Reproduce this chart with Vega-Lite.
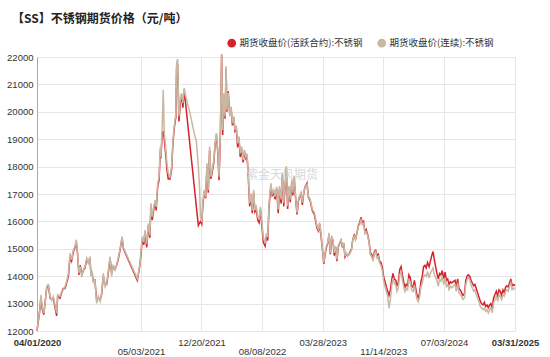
{
"$schema": "https://vega.github.io/schema/vega-lite/v6.json",
"width": 478, "height": 274,
"autosize": {"type": "none"},
"padding": {"left": 37, "top": 57, "right": 35, "bottom": 26},
"background": "white",
"config": {"view": {"stroke": null}, "axisY": {"title": null, "format": "d", "labelOverlap": false, "labelFontSize": 9.5, "labelFont": "Liberation Sans", "labelColor": "#333", "ticks": false, "labelPadding": 4, "domain": true, "domainColor": "#aaaaaa", "grid": true, "gridColor": "#e6e6e6", "gridWidth": 1, "tickCount": 10}},
"title": {"text": "【SS】不锈钢期货价格（元/吨）", "anchor": "start", "frame": "group", "dx": -25, "dy": 14, "offset": 26, "fontSize": 12, "font": "Noto Sans CJK SC", "fontWeight": "bold", "color": "#222"},
"data": {"values": [
{"d":"2020-04-01","c":12000,"a":12000},{"d":"2020-04-06","c":12400,"a":12350},{"d":"2020-04-12","c":12770,"a":12800},{"d":"2020-04-16","c":13320,"a":13250},{"d":"2020-04-21","c":12890,"a":12800},{"d":"2020-04-27","c":12650,"a":12600},{"d":"2020-05-02","c":13010,"a":13050},{"d":"2020-05-08","c":13620,"a":13550},{"d":"2020-05-14","c":13680,"a":13700},{"d":"2020-05-21","c":13260,"a":13200},{"d":"2020-05-27","c":13130,"a":13150},{"d":"2020-06-02","c":13260,"a":13200},{"d":"2020-06-09","c":12950,"a":12850},{"d":"2020-06-15","c":12650,"a":12550},{"d":"2020-06-19","c":13320,"a":13300},{"d":"2020-06-28","c":13260,"a":13200},{"d":"2020-07-04","c":13440,"a":13400},{"d":"2020-07-10","c":13500,"a":13550},{"d":"2020-07-17","c":13620,"a":13550},{"d":"2020-07-23","c":13800,"a":13750},{"d":"2020-07-30","c":14110,"a":14000},{"d":"2020-08-05","c":14840,"a":14700},{"d":"2020-08-11","c":14600,"a":14550},{"d":"2020-08-18","c":14960,"a":14900},{"d":"2020-08-24","c":15090,"a":15050},{"d":"2020-08-29","c":15330,"a":15250},{"d":"2020-09-03","c":14840,"a":14800},{"d":"2020-09-08","c":14110,"a":14050},{"d":"2020-09-13","c":14350,"a":14400},{"d":"2020-09-19","c":13990,"a":14050},{"d":"2020-09-25","c":14230,"a":14200},{"d":"2020-10-01","c":14350,"a":14300},{"d":"2020-10-08","c":14660,"a":14600},{"d":"2020-10-14","c":14480,"a":14500},{"d":"2020-10-20","c":14720,"a":14650},{"d":"2020-10-24","c":13990,"a":14100},{"d":"2020-10-29","c":14110,"a":14050},{"d":"2020-11-03","c":13740,"a":13800},{"d":"2020-11-08","c":13870,"a":13850},{"d":"2020-11-15","c":13010,"a":13100},{"d":"2020-11-21","c":13260,"a":13200},{"d":"2020-11-28","c":13070,"a":13150},{"d":"2020-12-04","c":13380,"a":13350},{"d":"2020-12-10","c":14110,"a":14000},{"d":"2020-12-17","c":13620,"a":13700},{"d":"2020-12-23","c":13740,"a":13700},{"d":"2020-12-29","c":14170,"a":14100},{"d":"2021-01-05","c":14720,"a":14650},{"d":"2021-01-11","c":13990,"a":14100},{"d":"2021-01-17","c":14420,"a":14350},{"d":"2021-01-24","c":14230,"a":14250},{"d":"2021-01-30","c":14420,"a":14400},{"d":"2021-02-05","c":14660,"a":14600},{"d":"2021-02-12","c":15000,"a":14950},{"d":"2021-02-20","c":15450,"a":15400},{"d":"2021-02-25","c":15040,"a":15000},{"d":"2021-04-19","c":13910,"a":13850},{"d":"2021-04-29","c":14430,"a":14400},{"d":"2021-05-03","c":14900,"a":14800},{"d":"2021-05-08","c":15440,"a":15350},{"d":"2021-05-14","c":15250,"a":15150},{"d":"2021-05-18","c":15680,"a":15600},{"d":"2021-05-25","c":15190,"a":15050},{"d":"2021-05-31","c":15920,"a":15850},{"d":"2021-06-06","c":15500,"a":15400},{"d":"2021-06-10","c":16660,"a":16550},{"d":"2021-06-15","c":16170,"a":16050},{"d":"2021-06-21","c":16530,"a":16450},{"d":"2021-06-26","c":16780,"a":16700},{"d":"2021-06-30","c":16530,"a":16400},{"d":"2021-07-06","c":17390,"a":17300},{"d":"2021-07-11","c":17630,"a":17500},{"d":"2021-07-16","c":18730,"a":18600},{"d":"2021-07-18","c":18360,"a":18300},{"d":"2021-07-23","c":19460,"a":19200},{"d":"2021-07-27","c":20800,"a":19300},{"d":"2021-07-31","c":19220,"a":19000},{"d":"2021-08-05","c":18730,"a":18500},{"d":"2021-08-10","c":18120,"a":17900},{"d":"2021-08-15","c":17750,"a":17550},{"d":"2021-08-22","c":17630,"a":17550},{"d":"2021-08-28","c":18000,"a":17900},{"d":"2021-09-02","c":18970,"a":18850},{"d":"2021-09-07","c":19460,"a":19400},{"d":"2021-09-13","c":19950,"a":19800},{"d":"2021-09-16","c":21780,"a":21600},{"d":"2021-09-20","c":21930,"a":21750},{"d":"2021-09-25","c":19830,"a":19650},{"d":"2021-09-30","c":20440,"a":20300},{"d":"2021-10-05","c":20680,"a":20600},{"d":"2021-10-10","c":20320,"a":20150},{"d":"2021-10-15","c":20870,"a":20800},{"d":"2021-10-21","c":20560},{"d":"2021-11-06","c":19950},{"d":"2021-11-25","c":19100},{"d":"2021-11-30","c":18970},{"d":"2021-12-08","c":18000,"a":15850},{"d":"2021-12-13","c":17150,"a":15950},{"d":"2021-12-16","c":16170,"a":16000},{"d":"2021-12-21","c":15980,"a":15900},{"d":"2021-12-26","c":16780,"a":16700},{"d":"2021-12-31","c":17150,"a":17100},{"d":"2022-01-05","c":16900,"a":16850},{"d":"2022-01-10","c":18120,"a":18000},{"d":"2022-01-15","c":17150,"a":17050},{"d":"2022-01-20","c":18730,"a":18600},{"d":"2022-01-25","c":17630,"a":17550},{"d":"2022-01-30","c":17880,"a":17800},{"d":"2022-02-05","c":18240,"a":18150},{"d":"2022-02-10","c":18850,"a":18800},{"d":"2022-02-15","c":19220,"a":19150},{"d":"2022-02-20","c":18610,"a":18550},{"d":"2022-02-25","c":17630,"a":17500},{"d":"2022-03-02","c":19220,"a":19100},{"d":"2022-03-07","c":22090,"a":22090},{"d":"2022-03-11","c":19340,"a":19150},{"d":"2022-03-15","c":20680,"a":20600},{"d":"2022-03-20","c":19830,"a":19750},{"d":"2022-03-24","c":21660,"a":21550},{"d":"2022-03-27","c":20070,"a":20000},{"d":"2022-04-01","c":20680,"a":20750},{"d":"2022-04-07","c":19830,"a":19900},{"d":"2022-04-12","c":20190,"a":20150},{"d":"2022-04-17","c":19580,"a":19500},{"d":"2022-04-22","c":19830,"a":19800},{"d":"2022-04-27","c":19340,"a":19300},{"d":"2022-05-02","c":19460,"a":19400},{"d":"2022-05-07","c":18850,"a":18700},{"d":"2022-05-12","c":19100,"a":19050},{"d":"2022-05-17","c":18480,"a":18350},{"d":"2022-05-22","c":18730,"a":18650},{"d":"2022-05-28","c":18240,"a":18150},{"d":"2022-06-02","c":18610,"a":18550},{"d":"2022-06-07","c":18360,"a":18300},{"d":"2022-06-12","c":18480,"a":18400},{"d":"2022-06-17","c":17630,"a":17550},{"d":"2022-06-22","c":16660,"a":16550},{"d":"2022-06-27","c":17020,"a":16950},{"d":"2022-07-02","c":16410,"a":16300},{"d":"2022-07-07","c":17150,"a":17050},{"d":"2022-07-12","c":16410,"a":16350},{"d":"2022-07-17","c":16530,"a":16450},{"d":"2022-07-23","c":16170,"a":16050},{"d":"2022-07-28","c":16050,"a":15950},{"d":"2022-08-02","c":16530,"a":16450},{"d":"2022-08-07","c":16050,"a":15900},{"d":"2022-08-13","c":15430,"a":15250},{"d":"2022-08-20","c":15190,"a":15100},{"d":"2022-08-25","c":15560,"a":15450},{"d":"2022-08-30","c":15430,"a":15300},{"d":"2022-09-04","c":16660,"a":16550},{"d":"2022-09-11","c":17390,"a":17300},{"d":"2022-09-16","c":17020,"a":16950},{"d":"2022-09-22","c":17150,"a":17050},{"d":"2022-09-27","c":16900,"a":16800},{"d":"2022-10-03","c":17270,"a":17200},{"d":"2022-10-09","c":16440,"a":16300},{"d":"2022-10-14","c":17290,"a":17200},{"d":"2022-10-20","c":16800,"a":16650},{"d":"2022-10-25","c":17780,"a":17700},{"d":"2022-10-30","c":16680,"a":16550},{"d":"2022-11-04","c":17290,"a":17200},{"d":"2022-11-09","c":18020,"a":17950},{"d":"2022-11-14","c":16560,"a":16450},{"d":"2022-11-19","c":17290,"a":17250},{"d":"2022-11-24","c":16800,"a":16700},{"d":"2022-11-30","c":17540,"a":17450},{"d":"2022-12-04","c":17050,"a":16950},{"d":"2022-12-09","c":17660,"a":17600},{"d":"2022-12-15","c":16800,"a":16750},{"d":"2022-12-20","c":16320,"a":16250},{"d":"2022-12-25","c":16800,"a":16750},{"d":"2022-12-30","c":16930,"a":16900},{"d":"2023-01-04","c":17050,"a":17000},{"d":"2023-01-09","c":16680,"a":16600},{"d":"2023-01-14","c":17050,"a":17000},{"d":"2023-01-19","c":17230,"a":17250},{"d":"2023-01-27","c":17350,"a":17400},{"d":"2023-02-01","c":16930,"a":16900},{"d":"2023-02-08","c":16800,"a":16750},{"d":"2023-02-16","c":16440,"a":16400},{"d":"2023-02-24","c":16320,"a":16250},{"d":"2023-03-01","c":16070,"a":16000},{"d":"2023-03-06","c":15830,"a":15750},{"d":"2023-03-11","c":15710,"a":15650},{"d":"2023-03-16","c":15950,"a":15900},{"d":"2023-03-21","c":15580,"a":15500},{"d":"2023-03-26","c":15100,"a":15050},{"d":"2023-04-01","c":14490,"a":14450},{"d":"2023-04-06","c":14850,"a":14800},{"d":"2023-04-11","c":15100,"a":15050},{"d":"2023-04-16","c":15220,"a":15200},{"d":"2023-04-21","c":15580,"a":15500},{"d":"2023-04-26","c":14850,"a":14800},{"d":"2023-05-01","c":15460,"a":15400},{"d":"2023-05-06","c":15340,"a":15300},{"d":"2023-05-11","c":14850,"a":14750},{"d":"2023-05-16","c":15100,"a":15050},{"d":"2023-05-21","c":14610,"a":14550},{"d":"2023-05-26","c":15100,"a":15050},{"d":"2023-05-31","c":15220,"a":15200},{"d":"2023-06-06","c":15340,"a":15300},{"d":"2023-06-11","c":15100,"a":15050},{"d":"2023-06-16","c":15220,"a":15200},{"d":"2023-06-21","c":14730,"a":14700},{"d":"2023-06-26","c":14850,"a":14800},{"d":"2023-07-01","c":14730,"a":14750},{"d":"2023-07-06","c":14790,"a":14800},{"d":"2023-07-11","c":14850,"a":14900},{"d":"2023-07-16","c":14970,"a":15000},{"d":"2023-07-21","c":15340,"a":15350},{"d":"2023-07-26","c":15460,"a":15500},{"d":"2023-07-31","c":15340,"a":15350},{"d":"2023-08-06","c":15580,"a":15600},{"d":"2023-08-11","c":15830,"a":15850},{"d":"2023-08-16","c":15880,"a":15950},{"d":"2023-08-21","c":16060,"a":16150},{"d":"2023-08-26","c":15880,"a":15950},{"d":"2023-08-31","c":15940,"a":16000},{"d":"2023-09-05","c":15570,"a":15600},{"d":"2023-09-10","c":15630,"a":15700},{"d":"2023-09-16","c":15450,"a":15500},{"d":"2023-09-21","c":15210,"a":15250},{"d":"2023-09-26","c":14780,"a":14850},{"d":"2023-10-01","c":14720,"a":14800},{"d":"2023-10-06","c":14540,"a":14600},{"d":"2023-10-11","c":14840,"a":14900},{"d":"2023-10-16","c":14900,"a":14950},{"d":"2023-10-21","c":14660,"a":14750},{"d":"2023-10-26","c":14720,"a":14800},{"d":"2023-10-31","c":14480,"a":14550},{"d":"2023-11-05","c":14410,"a":14500},{"d":"2023-11-10","c":14230,"a":14350},{"d":"2023-11-16","c":13800,"a":13950},{"d":"2023-11-21","c":13620,"a":13800},{"d":"2023-11-26","c":13440,"a":13600},{"d":"2023-12-01","c":13260,"a":13450},{"d":"2023-12-06","c":12830,"a":13300},{"d":"2023-12-11","c":13140,"a":13500},{"d":"2023-12-16","c":13620,"a":13850},{"d":"2023-12-21","c":13930,"a":14100},{"d":"2023-12-26","c":13740,"a":13900},{"d":"2024-01-01","c":13680,"a":13850},{"d":"2024-01-05","c":13440,"a":13650},{"d":"2024-01-10","c":13560,"a":13750},{"d":"2024-01-16","c":14050,"a":14250},{"d":"2024-01-21","c":14170,"a":14350},{"d":"2024-01-26","c":13870,"a":14050},{"d":"2024-01-31","c":13620,"a":13800},{"d":"2024-02-05","c":13440,"a":13600},{"d":"2024-02-10","c":13560,"a":13700},{"d":"2024-02-15","c":13500,"a":13650},{"d":"2024-02-20","c":13870,"a":14050},{"d":"2024-02-25","c":13800,"a":13950},{"d":"2024-03-01","c":13500,"a":13650},{"d":"2024-03-07","c":13440,"a":13600},{"d":"2024-03-12","c":13680,"a":13850},{"d":"2024-03-17","c":13380,"a":13550},{"d":"2024-03-22","c":13140,"a":13300},{"d":"2024-03-27","c":13070,"a":13200},{"d":"2024-04-01","c":13260,"a":13400},{"d":"2024-04-06","c":13620,"a":13800},{"d":"2024-04-11","c":13740,"a":14000},{"d":"2024-04-16","c":13990,"a":14350},{"d":"2024-04-21","c":14050,"a":14400},{"d":"2024-04-26","c":13990,"a":14300},{"d":"2024-05-01","c":14170,"a":14500},{"d":"2024-05-07","c":13930,"a":14350},{"d":"2024-05-12","c":14110,"a":14550},{"d":"2024-05-17","c":14200,"a":14750},{"d":"2024-05-22","c":14300,"a":14900},{"d":"2024-05-27","c":14050,"a":14600},{"d":"2024-06-01","c":13950,"a":14350},{"d":"2024-06-06","c":13850,"a":14100},{"d":"2024-06-11","c":13630,"a":13900},{"d":"2024-06-16","c":13880,"a":14100},{"d":"2024-06-21","c":13820,"a":14050},{"d":"2024-06-26","c":14000,"a":14200},{"d":"2024-07-02","c":13690,"a":13900},{"d":"2024-07-07","c":13940,"a":14150},{"d":"2024-07-12","c":13630,"a":13850},{"d":"2024-07-17","c":13690,"a":13900},{"d":"2024-07-22","c":13510,"a":13700},{"d":"2024-07-27","c":13630,"a":13800},{"d":"2024-08-01","c":13570,"a":13750},{"d":"2024-08-07","c":13630,"a":13800},{"d":"2024-08-14","c":13690,"a":13850},{"d":"2024-08-19","c":13450,"a":13600},{"d":"2024-08-24","c":13760,"a":13900},{"d":"2024-08-29","c":13390,"a":13550},{"d":"2024-09-03","c":13330,"a":13500},{"d":"2024-09-08","c":13270,"a":13400},{"d":"2024-09-13","c":13150,"a":13300},{"d":"2024-09-19","c":13210,"a":13350},{"d":"2024-09-24","c":13690,"a":13850},{"d":"2024-09-29","c":13880,"a":14000},{"d":"2024-10-04","c":13940,"a":14050},{"d":"2024-10-09","c":13880,"a":14000},{"d":"2024-10-14","c":13690,"a":13850},{"d":"2024-10-19","c":13570,"a":13750},{"d":"2024-10-24","c":13450,"a":13650},{"d":"2024-10-29","c":13510,"a":13700},{"d":"2024-11-03","c":13330,"a":13550},{"d":"2024-11-08","c":13210,"a":13400},{"d":"2024-11-13","c":13080,"a":13250},{"d":"2024-11-18","c":12900,"a":13100},{"d":"2024-11-23","c":12840,"a":13000},{"d":"2024-11-29","c":12780,"a":12950},{"d":"2024-12-04","c":12840,"a":13050},{"d":"2024-12-09","c":12720,"a":12900},{"d":"2024-12-14","c":12780,"a":12950},{"d":"2024-12-19","c":12660,"a":12850},{"d":"2024-12-24","c":12780,"a":12950},{"d":"2024-12-29","c":12840,"a":13000},{"d":"2025-01-03","c":12660,"a":12800},{"d":"2025-01-08","c":13020,"a":13200},{"d":"2025-01-14","c":13150,"a":13350},{"d":"2025-01-19","c":13270,"a":13450},{"d":"2025-01-24","c":13080,"a":13250},{"d":"2025-01-29","c":13330,"a":13500},{"d":"2025-02-03","c":13270,"a":13450},{"d":"2025-02-08","c":13150,"a":13300},{"d":"2025-02-13","c":13330,"a":13500},{"d":"2025-02-18","c":13270,"a":13400},{"d":"2025-02-23","c":13450,"a":13600},{"d":"2025-02-28","c":13510,"a":13650},{"d":"2025-03-05","c":13450,"a":13600},{"d":"2025-03-10","c":13630,"a":13750},{"d":"2025-03-15","c":13760,"a":13900},{"d":"2025-03-20","c":13510,"a":13650},{"d":"2025-03-26","c":13570,"a":13700},{"d":"2025-03-31","c":13510,"a":13650}
]},
"layer": [
{
"transform": [{"filter": "isValid(datum.a)"}],
"mark": {"type": "line", "strokeWidth": 1.5, "interpolate": "linear"},
"encoding": {
"x": {"field": "d", "type": "temporal", "scale": {"type": "utc", "domain": [{"year": 2020, "month": 4, "date": 1, "utc": true}, {"year": 2025, "month": 3, "date": 31, "utc": true}]},
"axis": {"title": null, "format": "%m/%d/%Y", "values": [{"year": 2020, "month": 4, "date": 1, "utc": true}, {"year": 2021, "month": 5, "date": 3, "utc": true}, {"year": 2021, "month": 12, "date": 20, "utc": true}, {"year": 2022, "month": 8, "date": 8, "utc": true}, {"year": 2023, "month": 3, "date": 28, "utc": true}, {"year": 2023, "month": 11, "date": 14, "utc": true}, {"year": 2024, "month": 7, "date": 3, "utc": true}, {"year": 2025, "month": 3, "date": 31, "utc": true}],
"labelFontSize": 9.5, "labelFont": "Liberation Sans", "labelColor": "#333", "labelAngle": 0, "labelOverlap": false, "labelBound": false, "labelFlush": false,
"labelPadding": {"condition": {"test": "utcmonth(datum.value)==4 || utcmonth(datum.value)==7 || utcmonth(datum.value)==10", "value": 15}, "value": 6},
"labelFontWeight": {"condition": {"test": "utcyear(datum.value)==2020 || utcyear(datum.value)==2025", "value": "bold"}, "value": "normal"},
"ticks": false, "domain": false, "grid": true, "gridColor": "#e6e6e6", "gridWidth": 1}},
"y": {"field": "a", "type": "quantitative", "scale": {"domain": [12000, 22000], "nice": false, "zero": false},
"axis": {"title": null, "tickCount": 10, "labelOverlap": false}},
"color": {"datum": "期货收盘价(活跃合约):不锈钢", "type": "nominal",
"scale": {"domain": ["期货收盘价(活跃合约):不锈钢", "期货收盘价(连续):不锈钢"], "range": ["#d7222b", "#c8b7a2"]},
"legend": {"orient": "none", "legendX": 190, "legendY": -19, "direction": "horizontal", "title": null, "symbolType": "circle", "symbolSize": 75, "labelFontSize": 9.5, "labelFont": "Noto Sans CJK SC", "labelColor": "#333", "columnPadding": 14, "labelOffset": 3,
"encode": {"symbols": {"update": {"fill": {"scale": "color", "field": "value"}, "strokeWidth": {"value": 0}}}}}}
}
},
{
"mark": {"type": "line", "strokeWidth": 1.5, "interpolate": "linear"},
"encoding": {
"x": {"field": "d", "type": "temporal"},
"y": {"field": "c", "type": "quantitative", "axis": {"title": null, "tickCount": 10, "labelOverlap": false}},
"color": {"datum": "期货收盘价(连续):不锈钢", "type": "nominal"}
}
},
{
"data": {"values": [{"w": "紫金天风期货"}]},
"mark": {"type": "text", "fontSize": 12, "font": "Noto Sans CJK SC", "color": "#d0d0d0", "opacity": 0.8},
"encoding": {
"x": {"datum": {"year": 2022, "month": 10, "date": 23, "utc": true}, "type": "temporal"},
"y": {"datum": 17700, "type": "quantitative", "axis": {"title": null, "tickCount": 10, "labelOverlap": false}},
"text": {"field": "w", "type": "nominal"}
}
}
]
}
